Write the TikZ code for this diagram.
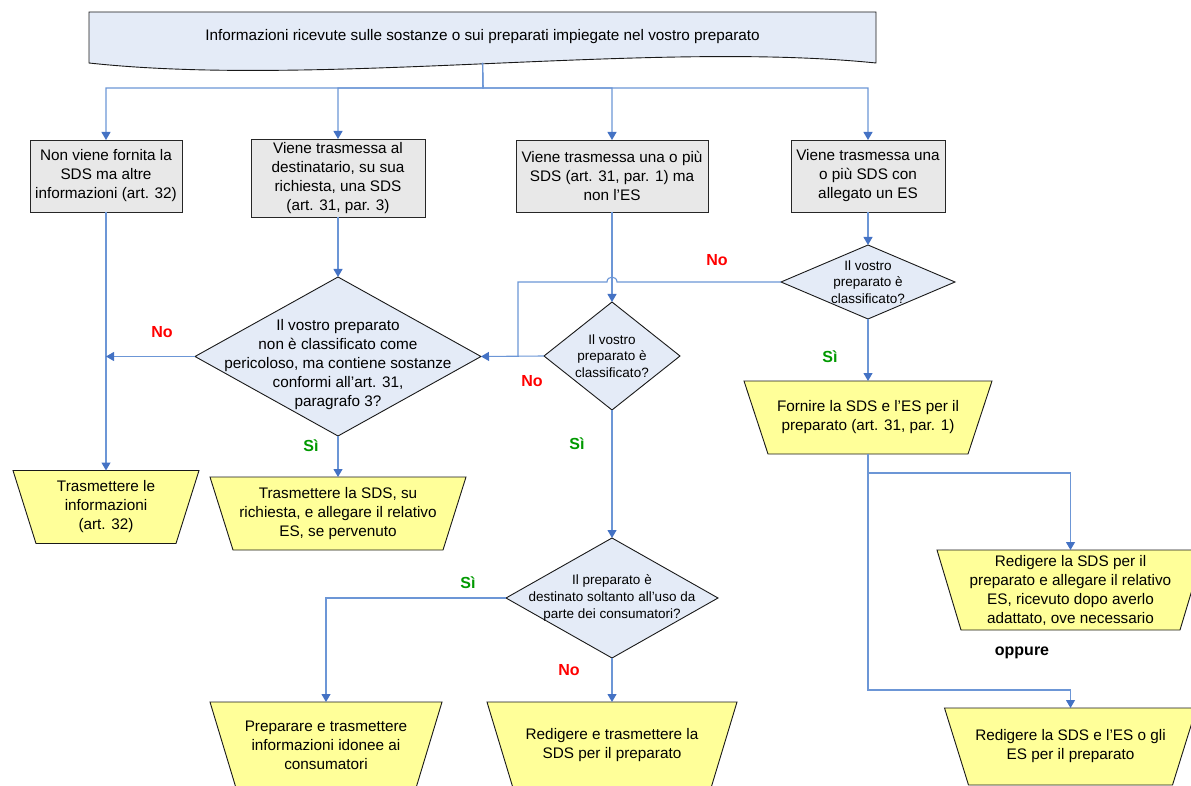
\documentclass[tikz,border=0pt]{standalone}
\usepackage{fontspec}
\setmainfont{Liberation Sans}
\usetikzlibrary{arrows.meta,calc}
\pgfdeclarelayer{bg}
\pgfsetlayers{bg,main}
\definecolor{connc}{RGB}{108,150,214}
\definecolor{arrowc}{RGB}{68,114,196}
\definecolor{grayfill}{RGB}{232,232,232}
\definecolor{bluefill}{RGB}{228,235,247}
\definecolor{yellowfill}{RGB}{255,255,153}
\definecolor{nored}{RGB}{255,0,0}
\definecolor{sigreen}{RGB}{0,153,0}
\begin{document}
\begin{tikzpicture}[x=1pt,y=-1pt,
  every node/.style={inner sep=0pt, outer sep=0pt, align=center},
  txt/.style={font=\fontsize{15.3}{19}\selectfont},
  smalltxt/.style={font=\fontsize{13.5}{16.8}\selectfont},
  graybox/.style={txt, rectangle, draw=black!85, line width=0.9pt, fill=grayfill},
  area/.style={rectangle},
  shapeline/.style={draw=black!90, line width=0.9pt},
  diafill/.style={shapeline, fill=bluefill},
  trapfill/.style={shapeline, fill=yellowfill},
  flowline/.style={draw=connc, line width=1.1pt},
  arr/.style={flowline, -{Triangle[length=8pt,width=9pt,color=arrowc]}},
  nolab/.style={font=\fontsize{16}{16}\selectfont\bfseries, text=nored},
  silab/.style={font=\fontsize{16}{16}\selectfont\bfseries, text=sigreen},
  boldlab/.style={font=\fontsize{16}{16}\selectfont\bfseries, text=black},
]
\useasboundingbox (0,0) rectangle (1191,786);

% ---------- nodes ----------
\node[txt, area, minimum width=787pt, minimum height=51pt] (doc) at (482.5,37.5)
  {\raisebox{5pt}{Informazioni ricevute sulle sostanze o sui preparati impiegate nel vostro preparato}};

\node[graybox, minimum width=152pt, minimum height=72pt] (b1) at (106,176)
  {Non viene fornita la\\SDS ma altre\\informazioni (art. 32)};
\node[graybox, minimum width=174pt, minimum height=78pt] (b2) at (338,178)
  {Viene trasmessa al\\destinatario, su sua\\richiesta, una SDS\\(art. 31, par. 3)};
\node[graybox, minimum width=192pt, minimum height=72pt] (b3) at (612,176)
  {Viene trasmessa una o più\\SDS (art. 31, par. 1) ma\\non l’ES};
\node[graybox, minimum width=154pt, minimum height=72pt] (b4) at (868,176)
  {Viene trasmessa una\\o più SDS con\\allegato un ES};

\node[area, minimum width=286pt, minimum height=159pt] (d1) at (338,356.5) {};
\node[txt] (d1t) at (338,365)
  {Il vostro preparato\\non è classificato come\\pericoloso, ma contiene sostanze\\conformi all’art. 31,\\paragrafo 3?};
\node[area, smalltxt, minimum width=136pt, minimum height=108pt] (d2) at (612,356)
  {Il vostro\\preparato è\\classificato?};
\node[area, smalltxt, minimum width=174pt, minimum height=74pt] (d3) at (868,282)
  {Il vostro\\preparato è\\classificato?};
\node[area, smalltxt, minimum width=212pt, minimum height=120pt] (d4) at (612,598)
  {Il preparato è\\destinato soltanto all’uso da\\parte dei consumatori?};

\node[area, txt, minimum width=186pt, minimum height=73pt] (t1) at (106,507)
  {Trasmettere le\\informazioni\\(art. 32)};
\node[area, txt, minimum width=256pt, minimum height=73pt] (t2) at (338,513.5)
  {Trasmettere la SDS, su\\richiesta, e allegare il relativo\\ES, se pervenuto};
\node[area, txt, minimum width=248pt, minimum height=73pt] (t3) at (868,417.5)
  {Fornire la SDS e l’ES per il\\preparato (art. 31, par. 1)};
\node[area, txt, minimum width=267pt, minimum height=80pt] (t4) at (1070.5,590)
  {Redigere la SDS per il\\preparato e allegare il relativo\\ES, ricevuto dopo averlo\\adattato, ove necessario};
\node[area, txt, minimum width=252pt, minimum height=77pt] (t5) at (1070.5,746.5)
  {Redigere la SDS e l’ES o gli\\ES per il preparato};
\node[area, txt, minimum width=232pt, minimum height=86pt] (t6) at (326,745)
  {Preparare e trasmettere\\informazioni idonee ai\\consumatori};
\node[area, txt, minimum width=250pt, minimum height=86pt] (t7) at (612,745)
  {Redigere e trasmettere la\\SDS per il preparato};

% ---------- shapes behind the texts ----------
\begin{pgfonlayer}{bg}
\clip (0,0) rectangle (1191,786);
\draw[diafill] (doc.north west) -- (doc.north east) -- (doc.south east)
  .. controls ($(doc.south east)+(-226,-23)$) and ($(doc.south west)+(231,25)$) .. (doc.south west) -- cycle;
\foreach \d in {d1,d2,d3,d4}{
  \draw[diafill] (\d.north) -- (\d.east) -- (\d.south) -- (\d.west) -- cycle;
}
\foreach \t/\i in {t1/23,t2/23,t3/24,t4/24,t5/24,t6/26,t7/26}{
  \draw[trapfill] (\t.north west) -- (\t.north east) -- ($(\t.south east)+(-\i,0)$) -- ($(\t.south west)+(\i,0)$) -- cycle;
}
\end{pgfonlayer}

% ---------- connectors ----------
\coordinate (hub) at (483,88);
\draw[arr] (doc.south) -- (hub) -| (b1.north);
\draw[arr] (doc.south) -- (hub) -| (b2.north);
\draw[arr] (doc.south) -- (hub) -| (b3.north);
\draw[arr] (doc.south) -- (hub) -| (b4.north);

\draw[arr] (b1.south) -- (t1.north);
\draw[arr] (b2.south) -- (d1.north);
\draw[arr] (d1.south) -- (t2.north);
\draw[arr] (d1.west) -- (d1.west -| b1.south);

\draw[arr] (b3.south) -- (d2.north);
\draw[arr] (d2.west) -- (d1.east);
\coordinate (jn) at (518,356);
\coordinate (hopE) at (617,282);
\coordinate (hopW) at (607,282);
\draw[flowline] (d3.west) -- (hopE) .. controls +(0,-6.5) and +(0,-6.5) .. (hopW) -- (hopW -| jn) -- (jn);

\draw[arr] (d2.south) -- (d4.north);
\draw[arr] (d4.west) -| (t6.north);
\draw[arr] (d4.south) -- (t7.north);

\draw[arr] (b4.south) -- (d3.north);
\draw[arr] (d3.south) -- (t3.north);
\coordinate (s1) at (868,473);
\coordinate (s2) at (868,690);
\draw[arr] (t3.south) -- (s1) -| (t4.north);
\draw[arr] (t3.south) -- (s2) -| (t5.north);

% ---------- labels ----------
\node[nolab] (no1) at (162,332) {No};
\node[silab] (si1) at (311,446) {Sì};
\node[nolab] (no2) at (532,381) {No};
\node[nolab] (no3) at (717,260) {No};
\node[silab] (si2) at (577,444) {Sì};
\node[silab] (si3) at (830,357) {Sì};
\node[silab] (si4) at (468,583) {Sì};
\node[nolab] (no4) at (569,670) {No};
\node[boldlab] (opp) at (1022,653) {oppure};
\end{tikzpicture}
\end{document}
